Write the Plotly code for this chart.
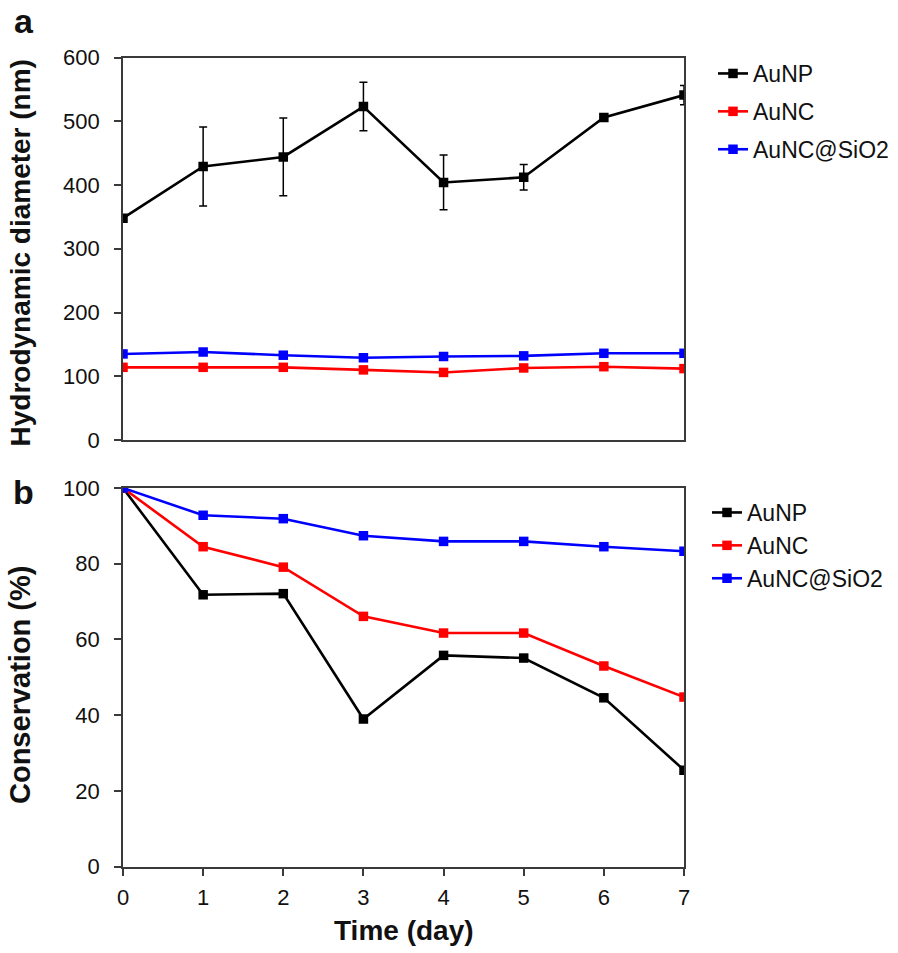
import plotly.graph_objects as go

days = [0, 1, 2, 3, 4, 5, 6, 7]

# Panel a: hydrodynamic diameter (nm)
aunp_d = [348, 429, 444, 523, 404, 412, 506, 541]
aunp_d_err = [2, 62, 61, 38, 43, 20, 3, 15]
aunc_d = [114, 114, 114, 110, 106, 113, 115, 112]
aunc_sio2_d = [135, 138, 133, 129, 131, 132, 136, 136]

# Panel b: conservation (%)
aunp_c = [100, 71.8, 72.1, 39, 55.8, 55.1, 44.6, 25.5]
aunc_c = [100, 84.5, 79.1, 66.1, 61.7, 61.7, 53.0, 44.8]
aunc_sio2_c = [100, 92.8, 91.9, 87.4, 85.9, 85.9, 84.5, 83.3]

names = ["AuNP", "AuNC", "AuNC@SiO2"]
colors = ["#000000", "#ff0000", "#0000ff"]

FONT = "Liberation Sans, Arial, sans-serif"
W, H = 898, 953


def px_x(x):
    return x / W


def px_y(y):
    return 1 - y / H


fig = go.Figure()

series_a = [aunp_d, aunc_d, aunc_sio2_d]
series_b = [aunp_c, aunc_c, aunc_sio2_c]

for i, (nm, col, ys) in enumerate(zip(names, colors, series_a)):
    kw = {}
    if i == 0:
        kw["error_y"] = dict(type="data", array=aunp_d_err, visible=True,
                             color="#000000", thickness=1.5, width=4)
    fig.add_trace(go.Scatter(
        x=days, y=ys, name=nm, mode="lines+markers",
        line=dict(color=col, width=2.6),
        marker=dict(symbol="square", size=9.5, color=col),
        xaxis="x", yaxis="y", legend="legend", legendgroup="a%d" % i,
        **kw))

for i, (nm, col, ys) in enumerate(zip(names, colors, series_b)):
    fig.add_trace(go.Scatter(
        x=days, y=ys, name=nm, mode="lines+markers",
        line=dict(color=col, width=2.6),
        marker=dict(symbol="square", size=9.5, color=col),
        xaxis="x2", yaxis="y2", legend="legend2", legendgroup="b%d" % i))

axis_common = dict(showline=True, linecolor="#3a3a3a", linewidth=1.6,
                   mirror=True, showgrid=False, zeroline=False, automargin=False,
                   tickfont=dict(family=FONT, size=22, color="#111111"),
                   ticks="outside", ticklen=7, tickcolor="#3a3a3a", tickwidth=1.5)

fig.update_layout(
    template="none",
    width=W, height=H,
    margin=dict(l=0, r=0, t=0, b=0, pad=0),
    paper_bgcolor="white", plot_bgcolor="white",
    font=dict(family=FONT, color="#111111"),
    xaxis=dict(domain=[px_x(123), px_x(684)], range=[0, 7], anchor="y",
               showticklabels=False, **{**axis_common, "ticks": ""}),
    yaxis=dict(domain=[px_y(440), px_y(57.5)], range=[0, 600], dtick=100, anchor="x",
               ticklabelstandoff=10, **axis_common),
    xaxis2=dict(domain=[px_x(123), px_x(684)], range=[0, 7], dtick=1, anchor="y2",
                ticklabelstandoff=3, **axis_common),
    yaxis2=dict(domain=[px_y(866.7), px_y(488)], range=[0, 100], dtick=20, anchor="x2",
                ticklabelstandoff=10, **axis_common),
    legend=dict(x=px_x(713), y=px_y(52), xanchor="left", yanchor="top",
                font=dict(family=FONT, size=23, color="#111111"), tracegroupgap=5,
                itemwidth=30, bgcolor="rgba(0,0,0,0)", borderwidth=0),
    legend2=dict(x=px_x(707), y=px_y(491), xanchor="left", yanchor="top",
                 font=dict(family=FONT, size=23, color="#111111"), tracegroupgap=0,
                 itemwidth=30, bgcolor="rgba(0,0,0,0)", borderwidth=0),
    showlegend=True,
    annotations=[
        dict(text="<b>a</b>", x=px_x(23.5), y=px_y(21), xref="paper", yref="paper",
             xanchor="center", yanchor="middle", showarrow=False,
             font=dict(family=FONT, size=34, color="#111111")),
        dict(text="<b>b</b>", x=px_x(23.5), y=px_y(492), xref="paper", yref="paper",
             xanchor="center", yanchor="middle", showarrow=False,
             font=dict(family=FONT, size=34, color="#111111")),
        dict(text="<b>Hydrodynamic diameter (nm)</b>", x=px_x(20), y=px_y(449),
             xref="paper", yref="paper", xanchor="center", yanchor="bottom",
             textangle=-90, showarrow=False,
             font=dict(family=FONT, size=28, color="#111111")),
        dict(text="<b>Conservation (%)</b>", x=px_x(20), y=px_y(685),
             xref="paper", yref="paper", xanchor="center", yanchor="middle",
             textangle=-90, showarrow=False,
             font=dict(family=FONT, size=29, color="#111111")),
        dict(text="<b>Time (day)</b>", x=px_x(404), y=px_y(930),
             xref="paper", yref="paper", xanchor="center", yanchor="middle",
             showarrow=False, font=dict(family=FONT, size=28, color="#111111")),
    ],
)

fig.write_html("out.html",
               config=dict(displayModeBar=False),
               post_script="document.body.style.margin='0';"
                           "document.body.style.padding='0';")
